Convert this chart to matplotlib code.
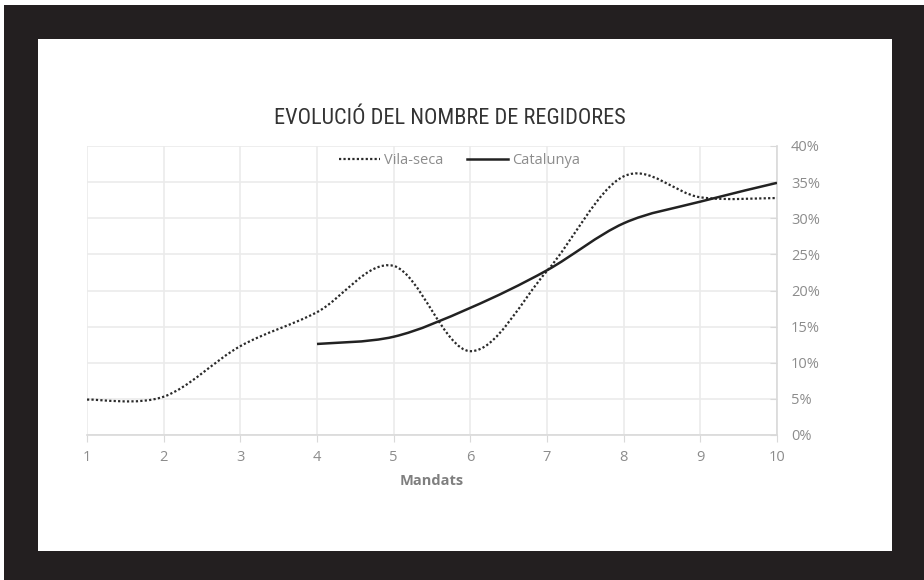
import matplotlib.pyplot as plt
from matplotlib.path import Path
from matplotlib.patches import PathPatch, Rectangle
from matplotlib.lines import Line2D
from matplotlib.ticker import FuncFormatter

mandats = [1, 2, 3, 4, 5, 6, 7, 8, 9, 10]
vila_seca = [4.9, 5.3, 12.3, 17.0, 23.4, 11.6, 22.7, 35.8, 32.9, 32.8]
cat_mandats = [4, 5, 6, 7, 8, 9, 10]
catalunya = [12.6, 13.6, 17.6, 22.8, 29.3, 32.3, 34.9]
yticks = [0, 5, 10, 15, 20, 25, 30, 35, 40]

DARK = '#231f20'
plt.rcParams['font.family'] = ['Open Sans', 'DejaVu Sans']


def smooth_path(xs, ys):
    # excel-style smoothed line: catmull-rom as cubic bezier segments
    pts = list(zip(xs, ys))
    verts = [pts[0]]
    codes = [Path.MOVETO]
    n = len(pts)
    for i in range(n - 1):
        p0 = pts[max(i - 1, 0)]
        p1 = pts[i]
        p2 = pts[i + 1]
        p3 = pts[min(i + 2, n - 1)]
        c1 = (p1[0] + (p2[0] - p0[0]) / 6, p1[1] + (p2[1] - p0[1]) / 6)
        c2 = (p2[0] - (p3[0] - p1[0]) / 6, p2[1] - (p3[1] - p1[1]) / 6)
        verts += [c1, c2, p2]
        codes += [Path.CURVE4] * 3
    return Path(verts, codes)


fig = plt.figure(figsize=(9.24, 5.8), dpi=100)
fig.patch.set_facecolor('white')
# dark frame and white panel
fig.add_artist(Rectangle((4 / 924, 0), 920 / 924, 575 / 580, transform=fig.transFigure,
                         facecolor=DARK, edgecolor='none', zorder=-3))
fig.add_artist(Rectangle((38 / 924, 29 / 580), 854 / 924, 512 / 580, transform=fig.transFigure,
                         facecolor='white', edgecolor='none', zorder=-2))

ax = fig.add_axes([87 / 924, 145 / 580, 690 / 924, 289 / 580])
ax.set_facecolor('none')

DOTS = (0, (1, 1))
ax.add_patch(PathPatch(smooth_path(mandats, vila_seca), facecolor='none', edgecolor='#2a2a2a',
                       lw=1.6, linestyle=DOTS, zorder=3))
ax.add_patch(PathPatch(smooth_path(cat_mandats, catalunya), facecolor='none', edgecolor='#222222',
                       lw=1.8, zorder=3))

ax.set_xlim(1, 10)
ax.set_ylim(0, 40)
ax.set_xticks(mandats)
ax.set_yticks(yticks)
ax.yaxis.tick_right()
ax.yaxis.set_major_formatter(FuncFormatter(lambda v, p: '%d%%' % v))
ax.grid(True, color='#ebebeb', lw=1.2)
ax.set_axisbelow(True)
for s in ['top', 'left']:
    ax.spines[s].set_visible(False)
for s in ['bottom', 'right']:
    ax.spines[s].set_color('#d9d9d9')
    ax.spines[s].set_linewidth(1.2)
ax.tick_params(axis='x', colors='#d9d9d9', labelcolor='#8c8c8c', labelsize=10.5, length=5, pad=6)
ax.tick_params(axis='y', colors='#d9d9d9', labelcolor='#8c8c8c', labelsize=10.5, length=5,
               direction='in', pad=10)
ax.set_xlabel('Mandats', color='#7f7f7f', fontsize=10.5, fontweight='bold', labelpad=6)

handles = [Line2D([], [], color='#2a2a2a', lw=1.6, linestyle=DOTS),
           Line2D([], [], color='#222222', lw=1.8)]
leg = ax.legend(handles, ['Vila-seca', 'Catalunya'], loc='upper center', bbox_to_anchor=(0.54, 1.02),
                ncol=2, frameon=False, fontsize=10.5, handlelength=2.8, handletextpad=0.3,
                columnspacing=1.6)
for t in leg.get_texts():
    t.set_color('#8c8c8c')

fig.text(450 / 924, 1 - 118 / 580, 'EVOLUCIÓ DEL NOMBRE DE REGIDORES',
         family=['Roboto Condensed', 'Roboto', 'DejaVu Sans'],
         fontsize=16, color='#333333', ha='center', va='center')

fig.savefig('out.png', dpi=100)
